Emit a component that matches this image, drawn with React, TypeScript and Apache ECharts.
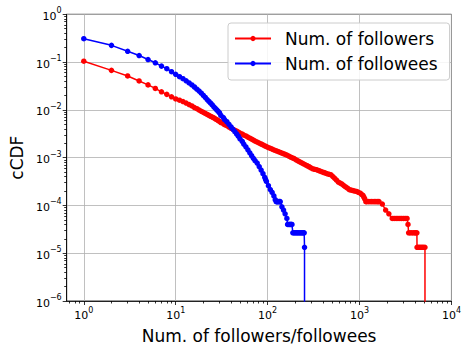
import React, { useEffect, useRef } from "react";
import * as echarts from "echarts";

// cCDF of number of followers (x = count, y = P(X >= x))
const followers: [number, number][] = [
  [1, 0.1045], [2, 0.0671], [3, 0.0512], [4, 0.0403], [5, 0.0333],
  [6, 0.0281], [7, 0.0239], [8, 0.0211], [9, 0.0188], [10, 0.0169],
  [11, 0.0159], [12, 0.0149], [13, 0.0139], [14, 0.0129], [15, 0.0121],
  [16, 0.0112], [17, 0.0106], [18, 0.00989], [19, 0.00934], [20, 0.00886],
  [21, 0.00842], [22, 0.00801], [23, 0.00766], [24, 0.00732], [25, 0.00705],
  [26, 0.00679], [27, 0.0065], [28, 0.00623], [29, 0.00598], [30, 0.00574],
  [31, 0.00544], [33, 0.00515], [34, 0.0049], [36, 0.00466], [38, 0.00438],
  [40, 0.00411], [42, 0.00392], [44, 0.00374], [46, 0.00359], [48, 0.00344],
  [50, 0.00327], [53, 0.00311], [55, 0.00297], [58, 0.00284], [61, 0.00269],
  [64, 0.00255], [67, 0.00244], [70, 0.00233], [73, 0.00222], [77, 0.00212],
  [81, 0.00202], [85, 0.00193], [89, 0.00185], [93, 0.00177], [97, 0.0017],
  [102, 0.00163], [107, 0.00157], [112, 0.00151], [117, 0.00145], [123, 0.0014],
  [129, 0.00135], [135, 0.0013], [141, 0.00126], [148, 0.00122], [155, 0.00117],
  [162, 0.00113], [170, 0.00108], [178, 0.00103], [186, 0.00099], [195, 0.000953],
  [204, 0.000903], [214, 0.000855], [224, 0.000815], [235, 0.000777], [246, 0.000743],
  [258, 0.00071], [270, 0.000677], [283, 0.000645], [296, 0.000614], [310, 0.000584],
  [325, 0.000571], [340, 0.000559], [356, 0.00054], [372, 0.000522], [390, 0.000505],
  [408, 0.000489], [427, 0.000474], [447, 0.00046], [468, 0.000448], [490, 0.000436],
  [513, 0.000401], [537, 0.000369], [562, 0.000337], [588, 0.000308], [616, 0.000293],
  [645, 0.000279], [675, 0.000261], [706, 0.000244], [740, 0.000229], [774, 0.000214],
  [810, 0.000209], [848, 0.000205], [888, 0.0002], [929, 0.000196], [972, 0.000188],
  [1018, 0.00018], [1053, 0.000171], [1090, 0.000162], [1115, 0.000149], [1140, 0.000137],
  [1171, 0.00012], [1200, 0.00012], [1250, 0.00012], [1300, 0.00012], [1350, 0.00012],
  [1400, 0.00012], [1450, 0.00012], [1500, 0.00012], [1550, 0.00012], [1590, 0.00012],
  [1629, 0.00012], [1770, 0.000107], [1923, 0.00008], [2084, 0.0000667],
  [2268, 0.0000533], [2380, 0.0000533], [2500, 0.0000533], [2620, 0.0000533], [2750, 0.0000533],
  [2870, 0.0000533], [3000, 0.0000533], [3140, 0.0000533], [3288, 0.0000533],
  [3367, 0.00004],
  [3420, 0.0000267], [3550, 0.0000267], [3700, 0.0000267], [3850, 0.0000267], [4000, 0.0000267],
  [4100, 0.0000267], [4207, 0.0000267],
  [4220, 0.0000133], [4350, 0.0000133], [4500, 0.0000133], [4650, 0.0000133], [4800, 0.0000133],
  [4950, 0.0000133], [5150, 0.0000133],
  [5160, 0],
];

// cCDF of number of followees
const followees: [number, number][] = [
  [1, 0.308], [2, 0.224], [3, 0.168], [4, 0.137], [5, 0.113],
  [6, 0.0968], [7, 0.0824], [8, 0.0728], [9, 0.063], [10, 0.0555],
  [11, 0.0495], [12, 0.045], [13, 0.0405], [14, 0.0366], [15, 0.0332],
  [16, 0.0301], [17, 0.0271], [18, 0.0247], [19, 0.0223], [20, 0.0201],
  [21, 0.0182], [22, 0.0164], [23, 0.015], [24, 0.0138], [25, 0.0127],
  [26, 0.0116], [27, 0.0108], [28, 0.00998], [29, 0.00927], [30, 0.00861],
  [31, 0.00763], [33, 0.00692], [34, 0.00625], [36, 0.00564], [38, 0.00497],
  [40, 0.00438], [42, 0.00392], [44, 0.0035], [46, 0.00314], [48, 0.00282],
  [50, 0.00248], [53, 0.00219], [55, 0.00192], [58, 0.00169], [61, 0.00146],
  [64, 0.00126], [67, 0.0011], [70, 0.00097], [73, 0.000864], [77, 0.000769],
  [81, 0.000651], [85, 0.000551], [89, 0.000462], [93, 0.000387], [95, 0.00035],
  [97, 0.000317], [102, 0.000259], [107, 0.000215], [112, 0.000187], [117, 0.000158],
  [121, 0.000132],
  [124, 0.00012], [126, 0.00012], [128, 0.00012], [130, 0.00012], [133, 0.00012], [135, 0.00012], [137, 0.00012],
  [143, 0.0000933], [149, 0.00008], [155, 0.0000667], [162, 0.0000533],
  [165, 0.00004], [168, 0.00004], [172, 0.00004], [175, 0.00004], [178, 0.00004], [181, 0.00004], [184, 0.00004],
  [188, 0.0000267], [194, 0.0000267], [200, 0.0000267], [206, 0.0000267], [212, 0.0000267],
  [218, 0.0000267], [225, 0.0000267], [231, 0.0000267], [238, 0.0000267], [244, 0.0000267], [250, 0.0000267],
  [252, 0.0000133],
  [252, 0],
];

const seriesNames = ["Num. of followers", "Num. of followees"];
const seriesColors = ["#ff0000", "#0000ff"];
const xAxisTitle = "Num. of followers/followees";
const yAxisTitle = "cCDF";
const xMajorExponents = [0, 1, 2, 3, 4];
const yMajorExponents = [-6, -5, -4, -3, -2, -1, 0];

const X_MIN_LOG = -0.186;
const X_MAX_LOG = 4;
const Y_MIN_LOG = -6;
const Y_MAX_LOG = 0;
const Y_FLOOR_LOG = -8; // where zero cCDF values are sent (below the axis, clipped)

const FONT = "DejaVu Sans";

function minorLogs(lo: number, hi: number): number[] {
  const out: number[] = [];
  for (let n = Math.floor(lo) - 1; n <= Math.ceil(hi); n++) {
    for (let k = 2; k <= 9; k++) {
      const v = n + Math.log10(k);
      if (v >= lo - 1e-9 && v <= hi + 1e-9) out.push(v);
    }
  }
  return out;
}

const toLogPoint = (p: [number, number]) => [
  Math.log10(p[0]),
  p[1] > 0 ? Math.log10(p[1]) : Y_FLOOR_LOG,
];

const powLabel = (v: number) => {
  const e = Math.round(v);
  const s = e < 0 ? "\u2212" + String(-e) : String(e);
  return `{b|10}{s|${s}}`;
};

const richLabel = {
  b: { fontSize: 11, fontFamily: FONT, color: "#000", lineHeight: 15, verticalAlign: "bottom" },
  s: { fontSize: 8, fontFamily: FONT, color: "#000", lineHeight: 7, verticalAlign: "top" },
};

export default function App() {
  const ref = useRef<HTMLDivElement>(null);

  useEffect(() => {
    if (!ref.current) return;
    const chart = echarts.init(ref.current, undefined, { renderer: "svg" });

    const axisLineStyle = { color: "#000", width: 0.8 };
    const option: any = {
      animation: false,
      backgroundColor: "#fff",
      grid: {
        left: 66.7,
        top: 14.3,
        width: 390,
        height: 290,
        show: true,
        borderColor: "#000",
        borderWidth: 0.8,
        backgroundColor: "transparent",
      },
      legend: {
        orient: "vertical",
        left: 228,
        top: 23,
        padding: [6, 12, 7, 6],
        itemGap: 6,
        itemWidth: 36,
        itemHeight: 6.5,
        backgroundColor: "rgba(255,255,255,0.85)",
        borderColor: "#cccccc",
        borderWidth: 1,
        borderRadius: 3,
        textStyle: {
          fontSize: 17,
          fontFamily: FONT,
          color: "#000",
          lineHeight: 19,
          padding: [0, 0, 0, 9],
        },
        data: seriesNames,
      },
      xAxis: [
        {
          type: "value",
          gridIndex: 0,
          position: "bottom",
          min: X_MIN_LOG,
          max: X_MAX_LOG,
          axisLine: { show: true, onZero: false, lineStyle: axisLineStyle },
          axisTick: { show: true, length: 4, customValues: xMajorExponents, lineStyle: axisLineStyle },
          axisLabel: {
            show: true,
            customValues: xMajorExponents,
            formatter: powLabel,
            margin: 5,
            rich: richLabel,
          },
          splitLine: { show: true, lineStyle: { color: "#b0b0b0", width: 0.8 } },
          name: xAxisTitle,
          nameLocation: "middle",
          nameGap: 26,
          nameTextStyle: { fontSize: 17, fontFamily: FONT, color: "#000" },
        },
        {
          type: "value",
          gridIndex: 0,
          position: "bottom",
          min: X_MIN_LOG,
          max: X_MAX_LOG,
          axisLine: { show: false, onZero: false },
          axisTick: { show: true, length: 2.5, customValues: minorLogs(X_MIN_LOG, X_MAX_LOG), lineStyle: axisLineStyle },
          axisLabel: { show: false },
          splitLine: { show: false },
        },
      ],
      yAxis: [
        {
          type: "value",
          gridIndex: 0,
          position: "left",
          min: Y_MIN_LOG,
          max: Y_MAX_LOG,
          interval: 1,
          axisLine: { show: true, onZero: false, lineStyle: axisLineStyle },
          axisTick: { show: true, length: 4, customValues: yMajorExponents, lineStyle: axisLineStyle },
          axisLabel: {
            show: true,
            customValues: yMajorExponents,
            formatter: powLabel,
            margin: 5,
            rich: richLabel,
          },
          splitLine: { show: true, lineStyle: { color: "#b0b0b0", width: 0.8 } },
          name: yAxisTitle,
          nameLocation: "middle",
          nameGap: 40,
          nameTextStyle: { fontSize: 17, fontFamily: FONT, color: "#000" },
        },
        {
          type: "value",
          gridIndex: 0,
          position: "left",
          min: Y_MIN_LOG,
          max: Y_MAX_LOG,
          axisLine: { show: false, onZero: false },
          axisTick: { show: true, length: 2.5, customValues: minorLogs(Y_MIN_LOG, Y_MAX_LOG), lineStyle: axisLineStyle },
          axisLabel: { show: false },
          splitLine: { show: false },
        },
      ],
      series: [followers, followees].map((pts, i) => ({
        type: "line",
        name: seriesNames[i],
        xAxisIndex: 0,
        yAxisIndex: 0,
        data: pts.map(toLogPoint),
        symbol: "circle",
        symbolSize: 5.5,
        showSymbol: true,
        showAllSymbol: true,
        clip: true,
        color: seriesColors[i],
        itemStyle: { color: seriesColors[i] },
        lineStyle: { color: seriesColors[i], width: 1.5 },
        emphasis: { disabled: true },
      })),
    };

    chart.setOption(option);
    return () => chart.dispose();
  }, []);

  return (
    <div
      ref={ref}
      style={{ position: "absolute", left: 0, top: 0, width: 464, height: 349, background: "#fff" }}
    />
  );
}
